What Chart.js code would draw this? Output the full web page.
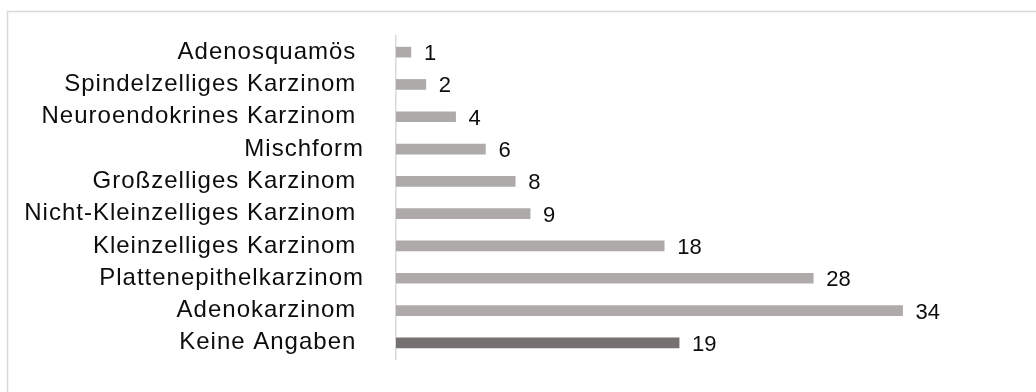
<!DOCTYPE html>
<html lang="de">
<head>
<meta charset="utf-8">
<title>Histologie</title>
<script src="https://cdn.jsdelivr.net/npm/chart.js@4/dist/chart.umd.min.js"></script>
<style>
  html, body { margin: 0; padding: 0; background: #fff; }
  #wrap { width: 1036px; height: 392px; position: relative; }
</style>
</head>
<body>
<div id="wrap"><canvas id="histoChart"></canvas></div>
<script>
// Histologische Typen (von oben nach unten), Anzahl Fälle
const categories = [
    'Adenosquamös ',
    'Spindelzelliges Karzinom ',
    'Neuroendokrines Karzinom ',
    'Mischform',
    'Großzelliges Karzinom ',
    'Nicht-Kleinzelliges Karzinom ',
    'Kleinzelliges Karzinom ',
    'Plattenepithelkarzinom',
    'Adenokarzinom ',
    'Keine Angaben '
];
const counts = [1, 2, 4, 6, 8, 9, 18, 28, 34, 19];
const xRange = [0, 40];

const FONT = "'Liberation Sans', Arial, sans-serif";
const BAR_GREY = '#aeaaaa';
const BAR_DARK = '#767171';

// Rahmen oben/links wie im Excel-Diagramm
const framePlugin = {
    id: 'frame',
    beforeDraw(chart) {
        const ctx = chart.ctx;
        ctx.save();
        ctx.strokeStyle = '#d9d9d9';
        ctx.lineWidth = 1.5;
        ctx.strokeRect(7.5, 11.5, 1200, 600);
        ctx.restore();
        // etwas breitere Achsenbeschriftung
        ctx.letterSpacing = '1px';
    }
};

// Werte rechts neben den Balken
const valueLabels = {
    id: 'valueLabels',
    afterDatasetsDraw(chart) {
        const ctx = chart.ctx;
        const meta = chart.getDatasetMeta(0);
        ctx.save();
        ctx.letterSpacing = '0px';
        ctx.font = '22px ' + FONT;
        ctx.fillStyle = '#0d0d0d';
        ctx.textAlign = 'left';
        ctx.textBaseline = 'alphabetic';
        meta.data.forEach((bar, i) => {
            ctx.fillText(String(counts[i]), bar.x + 13, bar.y + 8);
        });
        ctx.restore();
    }
};

new Chart(document.getElementById('histoChart'), {
    type: 'bar',
    data: {
        labels: categories,
        datasets: [{
            data: counts,
            backgroundColor: ctx => ctx.dataIndex === categories.length - 1 ? BAR_DARK : BAR_GREY,
            barThickness: 10,
            borderWidth: 0
        }]
    },
    options: {
        indexAxis: 'y',
        responsive: true,
        maintainAspectRatio: false,
        animation: false,
        layout: { padding: { top: 36, bottom: 33, left: 0, right: 44 } },
        plugins: {
            legend: { display: false },
            tooltip: { enabled: false }
        },
        scales: {
            x: {
                display: false,
                min: xRange[0],
                max: xRange[1]
            },
            y: {
                grid: { display: false, drawTicks: false },
                border: { display: true, color: '#d9d9d9', width: 1.5 },
                ticks: {
                    padding: 32,
                    color: '#0d0d0d',
                    font: { family: FONT, size: 24 }
                },
                afterFit(scale) {
                    scale.width = 396;
                    scale.paddingTop = 0;
                    scale.paddingBottom = 0;
                }
            }
        }
    },
    plugins: [framePlugin, valueLabels]
});
</script>
</body>
</html>
